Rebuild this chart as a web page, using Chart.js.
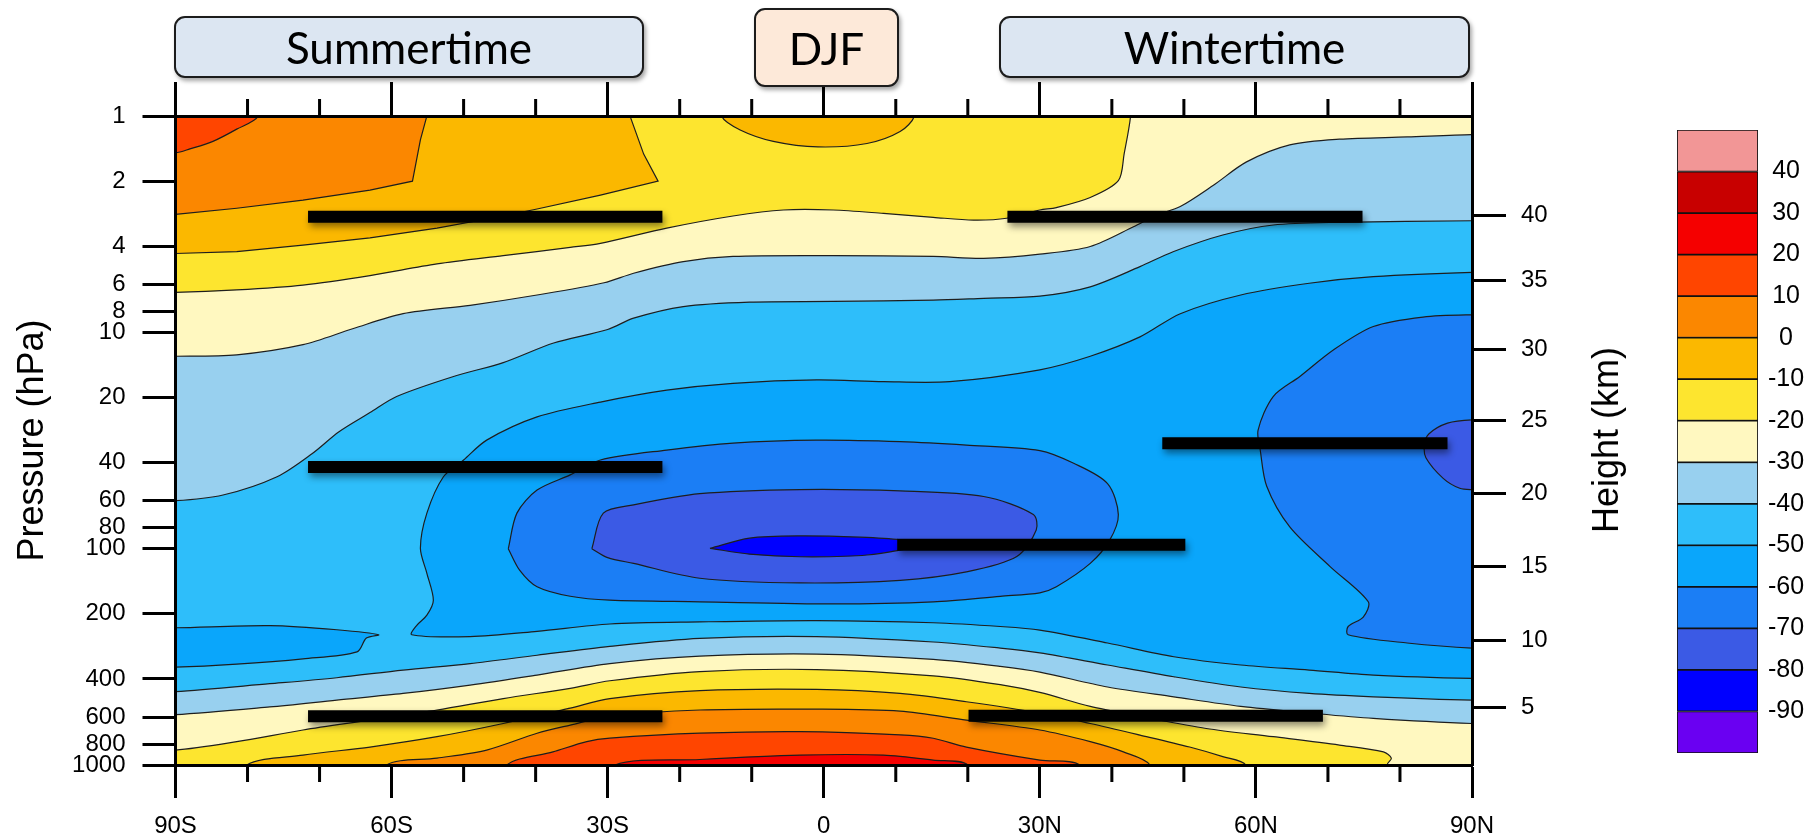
<!DOCTYPE html>
<html>
<head>
<meta charset="utf-8">
<title>DJF zonal-mean temperature</title>
<script src="https://cdn.jsdelivr.net/npm/chart.js@4.4.1/dist/chart.umd.min.js"></script>
<style>
html,body{margin:0;padding:0;background:#fff;}
body{width:1810px;height:839px;position:relative;overflow:hidden;font-family:"Liberation Sans",Arial,sans-serif;}
#plot{position:absolute;left:0;top:0;}
#cbar{position:absolute;left:1660px;top:0;}
.tag{position:absolute;box-sizing:border-box;border:2px solid #1c1c1c;border-radius:11px;background:#dce6f2;
  box-shadow:2px 3px 4px rgba(0,0,0,.35);font-family:Lato,"Open Sans",sans-serif;font-size:44px;color:#000;
  display:flex;align-items:center;justify-content:center;}
.tag.season{background:#fde9d9;}
#htitle{position:absolute;left:1606px;top:440px;transform:translate(-50%,-50%) rotate(-90deg);
  font-size:36px;white-space:nowrap;color:#000;}
</style>
</head>
<body>
<canvas id="plot" width="1650" height="839"></canvas>
<canvas id="cbar" width="150" height="839"></canvas>
<div class="tag" style="left:174px;top:16px;width:470px;height:62px;">Summertime</div>
<div class="tag season" style="left:754px;top:8px;width:145px;height:79px;">DJF</div>
<div class="tag" style="left:999px;top:16px;width:471px;height:62px;">Wintertime</div>
<div id="htitle">Height (km)</div>
<script>
// ---- axes ----
const pressureTicks = [1, 2, 4, 6, 8, 10, 20, 40, 60, 80, 100, 200, 400, 600, 800, 1000];
const heightKm = [5, 10, 15, 20, 25, 30, 35, 40];
const heightPressure = [540.5, 265, 121, 55.3, 25.5, 12.0, 5.75, 2.87];
const latTicks = [-90, -60, -30, 0, 30, 60, 90];
const latLabels = ['90S', '60S', '30S', '0', '30N', '60N', '90N'];
const latMinor = [-80, -70, -50, -40, -20, -10, 10, 20, 40, 50, 70, 80];

// ---- colour scale (deg C): boundaries and the fill of each interval, coldest first ----
const levels = [-90, -80, -70, -60, -50, -40, -30, -20, -10, 0, 10, 20, 30, 40];
const levelColors = ['#6a00f2', '#0000ff', '#3b5ae5', '#1b7ef5', '#0aa6fb', '#2ebefa', '#98d0ef',
  '#fff8c0', '#fde52f', '#fbb800', '#fb8700', '#ff4500', '#f50000', '#c80000', '#f29696'];

// ---- isotherms as [latitude, pressure hPa] ----
const m30Upper = [[-90,12.9],[-81.5,12.7],[-72.3,11.4],[-65.3,9.6],[-58.4,8.2],[-49.1,7.5],[-39.8,6.72],[-30.5,5.9],[-26.4,5.33],[-19.5,4.71],[-12.6,4.46],[1.3,4.42],[15.2,4.46],[22.2,4.55],[30,4.35],[37,4.01],[43,3.25],[46.2,2.87],[49.5,2.62],[54.1,2.09],[58.7,1.63],[64.7,1.36],[71.6,1.28],[81,1.25],[90,1.22]];
const m30Lower = [[-90,585],[-76.9,539],[-67.6,501],[-58.4,467],[-49.1,427],[-39.8,384],[-29.7,340],[-17.2,314],[-1,307],[15.2,325],[24.5,350],[30,372],[39.4,436],[48.6,484],[57.9,536],[67.4,575],[76.3,609],[90,643]];
const m40Upper = [[-90,60],[-83.4,56.5],[-75.9,46.5],[-71,36.3],[-67.3,28.8],[-63,23.5],[-59.3,19.8],[-51.4,16],[-44.5,13.8],[-37.5,11.2],[-30,9.7],[-26.4,8.6],[-19.5,7.6],[-10.3,7.25],[1.3,7.2],[15.2,7.1],[22.2,6.96],[30,6.8],[37,6.16],[43.9,4.97],[48.5,4.24],[55.4,3.55],[62.4,3.19],[71.6,3.1],[90,3.05]];
const m40Lower = [[-90,458],[-76.9,421],[-67.6,395],[-58.4,364],[-49.1,340],[-39.8,311],[-29.7,283],[-17.2,260],[-1,255],[15.2,270],[24.5,288],[30,303],[39.4,345],[48.6,391],[57.9,436],[67.4,467],[76.3,484],[90,501]];
const m50Main = [[90,398],[76.3,384],[67.4,364],[57.9,345],[48.6,316],[39.4,273],[30,238],[24.5,229],[15.2,220],[-1,215],[-17.2,218],[-29.7,223],[-39.8,241],[-49.1,255],[-57.2,250],[-56.5,226],[-55.1,203],[-54.2,173],[-55.1,130],[-56,99.6],[-55.1,68.5],[-52.8,46.5],[-50,38.9],[-46.8,31.5],[-39.8,24.6],[-31,21],[-21.8,18.5],[-12.6,17.2],[-1,16.6],[8.3,16.9],[17.5,16.9],[30,14.9],[37,12.9],[43.9,10.5],[49.5,8.2],[57.9,6.72],[67.4,5.93],[76.3,5.53],[90,5.28]];
const m50South = [[-90,232],[-76.9,227],[-67.6,237],[-61.8,250],[-63.5,259],[-64.8,300],[-72.3,323],[-81.5,342],[-90,353]];
const m60Tropics = [[-43.8,100],[-42.6,68.5],[-39.8,53.6],[-35.2,45.6],[-31,38.9],[-21.8,35],[-12.6,32.5],[-1,31.5],[10.6,32],[19.8,33.2],[30,35.2],[34.7,40.3],[39.4,50],[40.9,69.6],[39.7,91.3],[37,117],[32.3,150],[30,160],[24.5,166],[15.2,176],[1.3,180],[-17.2,176],[-29.7,173],[-35.2,166],[-39.8,150],[-42.2,126]];
const m60Arctic = [[90,8.3],[83.2,8.5],[76.3,9.4],[70.7,12.1],[66.1,16],[62.4,19.8],[60.3,28.3],[60.6,35],[61.5,51.5],[64.7,79.4],[70.3,121],[75.6,176],[74.9,207],[72.8,229],[72.8,250],[81,273],[90,288]];
const m70Tropics = [[-32.2,100],[-30.6,68.5],[-26.4,62.7],[-17.2,55.7],[-3.3,53.3],[10.6,54.1],[22.2,57.4],[29.1,69.6],[29.5,82],[26.8,108.7],[19.8,128],[10.6,140],[-3.3,144],[-17.2,137],[-26.4,117],[-30,110]];
const m70Arctic = [[90,25.4],[86.6,26.3],[84,29.5],[83.4,33],[83.6,38],[86,47.3],[88.3,52.6],[90,53.3]];
const m80Tropics = [[-15.8,99.6],[-10.3,89.4],[-3.3,87.3],[5,88.5],[10.6,91],[13.4,96],[6,107],[-3.3,109],[-10.3,106]];
const m20Upper = [[42.6,1],[41.7,1.5],[40.9,1.99],[37,2.38],[32.3,2.65],[30,2.72],[25.4,2.97],[20.8,3.03],[15.2,2.94],[8.3,2.82],[1.3,2.72],[-5.6,2.72],[-12.6,2.9],[-21.8,3.3],[-31,3.88],[-35.2,4.05],[-44.5,4.42],[-53.7,4.83],[-63,5.47],[-72.3,6.05],[-81.5,6.37],[-90,6.54]];
const m10UpperSouth = [[-26.9,1],[-25,1.5],[-23,2.0],[-31,2.32],[-39.8,2.69],[-44.5,2.9],[-53.7,3.3],[-63,3.66],[-72.3,3.95],[-81.5,4.24],[-90,4.32]];
const m10UpperEq = [[-14.2,1],[-11.6,1.16],[-7,1.31],[-0.8,1.39],[6,1.34],[10.6,1.18],[12.6,1]];
const p0Upper = [[-55.1,1],[-56,1.29],[-57.1,2.0],[-63,2.2],[-72.3,2.45],[-81.5,2.67],[-90,2.85]];
const p10Upper = [[-78.5,1],[-81.5,1.15],[-84.8,1.31],[-88,1.42],[-90,1.48]];
const m20Lower = [[-90,853],[-81.5,780],[-72.3,689],[-63,620],[-53.7,557],[-44.5,493],[-35.2,442],[-29.7,408],[-17.2,370],[-1,362],[15.2,387],[24.5,425],[30,462],[37,536],[43.9,595],[53.1,678],[62.4,740],[71.6,809],[77.7,870],[78.8,930],[78.2,1000]];
const m10Lower = [[-80.1,1000],[-72.3,900],[-63,826],[-53.7,740],[-44.5,643],[-35.2,546],[-29.7,493],[-17.2,453],[-1,447],[10.6,467],[19.8,510],[30,575],[37,643],[43.9,727],[50.8,826],[55.4,915],[58.6,1000]];
const p0Lower = [[-60.7,1000],[-53.7,930],[-46.8,853],[-39.8,713],[-35.2,654],[-29.7,595],[-17.2,557],[-1,552],[10.6,564],[19.8,620],[30,689],[37,780],[41.6,870],[45.3,1000]];
const p10Lower = [[-44,1000],[-37.6,870],[-32.9,780],[-29.7,752],[-17.2,713],[-3.3,701],[10.6,725],[15.2,752],[19.8,826],[30,949],[35.5,1000]];
const p20Lower = [[-29,1000],[-17.2,943],[-3.3,900],[8.3,900],[15.2,949],[20,1000]];

// ---- highlighted layers: pressure level and latitude span ----
const barPressure = [2.92, 2.92, 41.9, 96, 32.6, 595, 592];
const barLatStart = [-71.6, 25.5, -71.6, 10.2, 47, -71.6, 20.1];
const barLatEnd = [-22.4, 74.8, -22.4, 50.2, 86.6, -22.4, 69.3];

// ---- polygon helpers: push open ends just beyond the frame so fills close outside it ----
const LAT_OUT = 97, P_TOP_OUT = 0.75, P_BOT_OUT = 1350;
const CORNERS = {TL: [-LAT_OUT, P_TOP_OUT], TR: [LAT_OUT, P_TOP_OUT], BL: [-LAT_OUT, P_BOT_OUT], BR: [LAT_OUT, P_BOT_OUT]};
function outside([lat, p]) {
  if (lat <= -90) return [-LAT_OUT, p];
  if (lat >= 90) return [LAT_OUT, p];
  if (p <= 1) return [lat, P_TOP_OUT];
  return [lat, P_BOT_OUT];
}
function edgeRegion(line, corners = []) {
  return [outside(line[0]), ...line, outside(line[line.length - 1]), ...corners.map(c => CORNERS[c])];
}
function band(upper, lower) {
  return [outside(upper[0]), ...upper, outside(upper[upper.length - 1]),
          outside(lower[lower.length - 1]), ...lower.slice().reverse(), outside(lower[0])];
}
function loop(line) { return [...line, line[0]]; }
const below = lv => levelColors[levels.indexOf(lv)];
const above = lv => levelColors[levels.indexOf(lv) + 1];

// painter's order: bottom layer first
const regions = [
  {pts: [CORNERS.TL, CORNERS.TR, CORNERS.BR, CORNERS.BL], color: levelColors[7], stroke: false},
  {pts: band(m30Upper, m30Lower), color: below(-30)},
  {pts: band(m40Upper, m40Lower), color: below(-40)},
  {pts: edgeRegion(m50Main), color: below(-50)},
  {pts: edgeRegion(m50South), color: below(-50)},
  {pts: loop(m60Tropics), color: below(-60)},
  {pts: edgeRegion(m60Arctic), color: below(-60)},
  {pts: loop(m70Tropics), color: below(-70)},
  {pts: edgeRegion(m70Arctic), color: below(-70)},
  {pts: loop(m80Tropics), color: below(-80)},
  {pts: edgeRegion(m20Upper, ['TL']), color: above(-20)},
  {pts: edgeRegion(m10UpperSouth, ['TL']), color: above(-10), tension: 0},
  {pts: edgeRegion(m10UpperEq), color: above(-10)},
  {pts: edgeRegion(p0Upper, ['TL']), color: above(0), tension: 0},
  {pts: edgeRegion(p10Upper, ['TL']), color: above(10)},
  {pts: edgeRegion(m20Lower, ['BL']), color: above(-20)},
  {pts: edgeRegion(m10Lower), color: above(-10)},
  {pts: edgeRegion(p0Lower), color: above(0)},
  {pts: edgeRegion(p10Lower), color: above(10)},
  {pts: edgeRegion(p20Lower), color: above(20)}
];

const layers = regions.map(r => ({
  data: r.pts.map(([x, y]) => ({x, y})),
  showLine: true,
  fill: 'shape',
  backgroundColor: r.color,
  borderColor: r.stroke === false ? 'rgba(0,0,0,0)' : '#1e1e1e',
  borderWidth: r.stroke === false ? 0 : 1.2,
  tension: r.tension ?? 0.3,
  pointRadius: 0, pointHoverRadius: 0, pointHitRadius: 0
}));
const markers = barPressure.map((p, i) => ({
  data: [{x: barLatStart[i], y: p}, {x: barLatEnd[i], y: p}],
  showLine: true, fill: false,
  borderColor: '#000', borderWidth: 12, borderCapStyle: 'butt', tension: 0,
  pointRadius: 0, pointHoverRadius: 0, pointHitRadius: 0,
  isMarker: true
}));
const datasets = [...layers, ...markers];
datasets.forEach((d, i) => { d.order = datasets.length - i; });

const tickFont = {family: '"Liberation Sans", Arial, sans-serif', size: 24};
Chart.defaults.color = '#000';
Chart.defaults.font.family = '"Liberation Sans", Arial, sans-serif';

const frameGrid = len => ({drawOnChartArea: false, drawTicks: true, tickLength: len, tickWidth: 3, tickColor: '#000', color: '#000', z: 1});
const frameBorder = {display: true, width: 3, color: '#000', z: 1};

const markerShadow = {
  id: 'markerShadow',
  beforeDatasetDraw(chart, args) {
    if (!chart.data.datasets[args.index].isMarker) return;
    const c = chart.ctx;
    c.save();
    c.shadowColor = 'rgba(0,0,0,0.45)';
    c.shadowBlur = 7; c.shadowOffsetX = 2; c.shadowOffsetY = 4;
  },
  afterDatasetDraw(chart, args) {
    if (chart.data.datasets[args.index].isMarker) chart.ctx.restore();
  }
};
const minorTicks = {
  id: 'minorTicks',
  afterDraw(chart) {
    const {ctx, chartArea: a, scales: {x}} = chart;
    ctx.save();
    ctx.strokeStyle = '#000'; ctx.lineWidth = 3;
    ctx.beginPath();
    latMinor.forEach(v => {
      const px = x.getPixelForValue(v);
      ctx.moveTo(px, a.bottom); ctx.lineTo(px, a.bottom + 17);
      ctx.moveTo(px, a.top); ctx.lineTo(px, a.top - 17);
    });
    ctx.stroke();
    ctx.restore();
  }
};

new Chart(document.getElementById('plot'), {
  type: 'scatter',
  data: {datasets},
  plugins: [markerShadow, minorTicks],
  options: {
    responsive: false, animation: false, events: [],
    layout: {padding: 0},
    plugins: {legend: {display: false}, tooltip: {enabled: false}, filler: {propagate: false}},
    scales: {
      x: {
        type: 'linear', position: 'bottom', min: -90, max: 90,
        afterBuildTicks: s => { s.ticks = latTicks.map(v => ({value: v})); },
        ticks: {callback: (v, i) => latLabels[i], font: tickFont, padding: 14, maxRotation: 0, autoSkip: false},
        grid: frameGrid(33), border: frameBorder,
        afterFit: s => { s.height = 74; }
      },
      xTop: {
        type: 'linear', position: 'top', min: -90, max: 90,
        afterBuildTicks: s => { s.ticks = latTicks.map(v => ({value: v})); },
        ticks: {display: false},
        grid: frameGrid(34), border: frameBorder,
        afterFit: s => { s.height = 116; }
      },
      y: {
        type: 'logarithmic', position: 'left', reverse: true, min: 1, max: 1000,
        afterBuildTicks: s => { s.ticks = pressureTicks.map(v => ({value: v})); },
        ticks: {callback: v => String(v), font: tickFont, padding: 17, autoSkip: false},
        grid: frameGrid(33), border: frameBorder,
        title: {display: true, text: 'Pressure (hPa)', font: {size: 36}, color: '#000', padding: {top: 11, bottom: 0}},
        afterFit: s => { s.width = 175.5; }
      },
      yH: {
        type: 'logarithmic', position: 'right', reverse: true, min: 1, max: 1000,
        afterBuildTicks: s => { s.ticks = heightPressure.map(v => ({value: v})); },
        ticks: {callback: (v, i) => String(heightKm[i]), font: tickFont, padding: 15, autoSkip: false},
        grid: frameGrid(34), border: frameBorder,
        afterFit: s => { s.width = 178; }
      }
    }
  }
});

// ---- colour bar ----
const cbEdges = [levels[0] - 10, ...levels, levels[levels.length - 1] + 10];
new Chart(document.getElementById('cbar'), {
  type: 'bar',
  data: {
    labels: [''],
    datasets: levelColors.map((c, i) => ({
      data: [[cbEdges[i], cbEdges[i + 1]]],
      backgroundColor: c, borderColor: '#111', borderWidth: 1.2, borderSkipped: false,
      barPercentage: 1, categoryPercentage: 1, grouped: false
    }))
  },
  options: {
    responsive: false, animation: false, events: [],
    layout: {padding: {left: 17, right: 0, top: 130, bottom: 86}},
    plugins: {legend: {display: false}, tooltip: {enabled: false}},
    scales: {
      x: {display: false},
      y: {
        position: 'right', min: cbEdges[0], max: cbEdges[cbEdges.length - 1],
        afterBuildTicks: s => { s.ticks = levels.map(v => ({value: v})); },
        ticks: {callback: v => String(v), font: {size: 25}, crossAlign: 'center', padding: 10, autoSkip: false},
        grid: {display: false, drawTicks: false},
        border: {display: false},
        afterFit: s => { s.width = 52; }
      }
    }
  }
});
</script>
</body>
</html>
